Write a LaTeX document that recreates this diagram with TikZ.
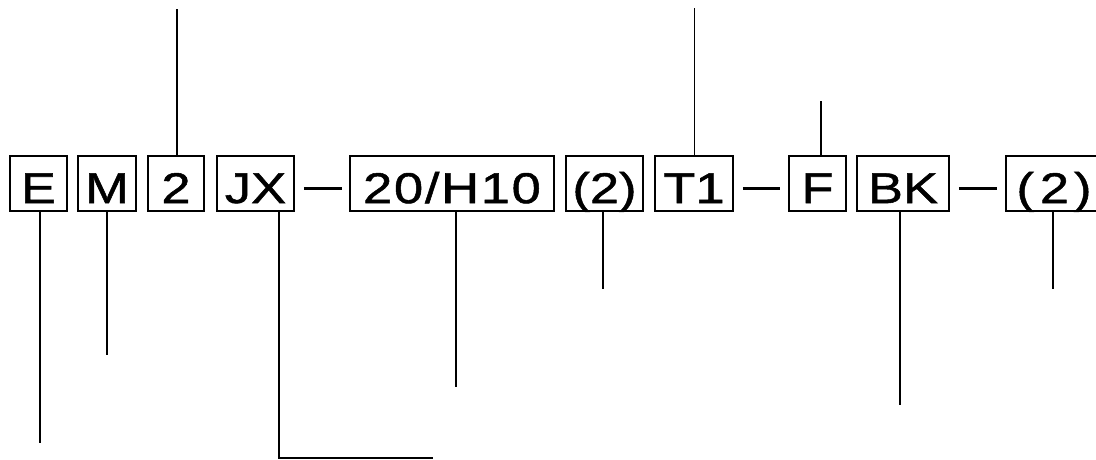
\documentclass[tikz,border=0pt]{standalone}
\usepackage{fontspec}
\setmainfont{Liberation Sans}[FakeStretch=1.22,FakeBold=1.2]
\begin{document}
\begin{tikzpicture}[x=1pt,y=-1pt,
  codebox/.style={draw, line width=1.8pt, inner xsep=0pt, inner ysep=0pt,
    text height=47pt, text depth=7.7pt, anchor=center,
    font=\fontsize{43}{50}\selectfont},
  leader/.style={line width=1.2pt},
  dashline/.style={line width=2.4pt}]
\useasboundingbox (0,0) rectangle (1096,459);
% boxes
\node[codebox, minimum width=57pt] (E)  at (38.5,183.4) {E};
\node[codebox, minimum width=58pt] (M)  at (107,183.4) {M};
\node[codebox, minimum width=56pt] (N2) at (176,183.4) {2};
\node[codebox, minimum width=77pt] (JX) at (255.5,183.4) {JX};
\node[codebox, minimum width=204pt] (H) at (452,183.4) {\addfontfeature{LetterSpace=4}20/H10};
\node[codebox, minimum width=77pt] (P1) at (604.5,183.4) {(2)};
\node[codebox, minimum width=78pt] (T1) at (694,183.4) {T1};
\node[codebox, minimum width=57pt] (F)  at (817.5,183.4) {F};
\node[codebox, minimum width=92pt] (BK) at (903,183.4) {BK};
\node[codebox, minimum width=96pt] (P2) at (1054,183.4) {(\hspace{6pt}2\hspace{5pt})};
% dashes
\draw[dashline, shorten <=9pt, shorten >=7pt] ([yshift=-5pt]JX.east) -- ([yshift=-5pt]H.west);
\draw[dashline, shorten <=9pt, shorten >=8pt] ([yshift=-5pt]T1.east) -- ([yshift=-5pt]F.west);
\draw[dashline, shorten <=9pt, shorten >=8pt] ([yshift=-5pt]BK.east) -- ([yshift=-5pt]P2.west);
% leader end points
\coordinate (eE)  at (40,443);
\coordinate (eM)  at (107,355);
\coordinate (e2)  at (177,9);
\coordinate (eJX) at (279,458);
\coordinate (eJX2) at (433,458);
\coordinate (eH)  at (456,387);
\coordinate (eP1) at (603,289);
\coordinate (eT1) at (694.5,8);
\coordinate (eF)  at (821,101);
\coordinate (eBK) at (900,405);
\coordinate (eP2) at (1053,289);
% leaders
\draw[leader] (E.south -| eE) -- (eE);
\draw[leader] (M.south -| eM) -- (eM);
\draw[leader] (N2.north -| e2) -- (e2);
\draw[leader] (JX.south -| eJX) -- (eJX) -- (eJX2);
\draw[leader] (H.south -| eH) -- (eH);
\draw[leader] (P1.south -| eP1) -- (eP1);
\draw[leader] (T1.north -| eT1) -- (eT1);
\draw[leader] (F.north -| eF) -- (eF);
\draw[leader] (BK.south -| eBK) -- (eBK);
\draw[leader] (P2.south -| eP2) -- (eP2);
\end{tikzpicture}
\end{document}
